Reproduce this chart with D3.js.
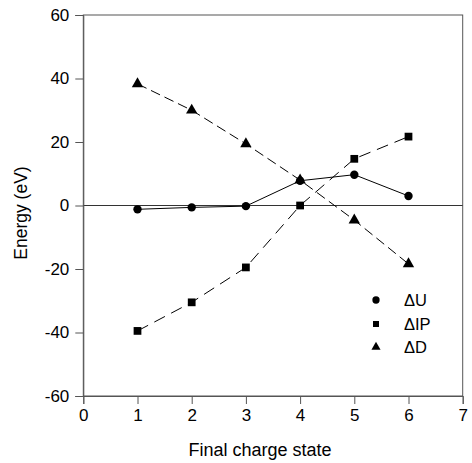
<!DOCTYPE html>
<html>
<head>
<meta charset="utf-8">
<script src="https://cdn.jsdelivr.net/npm/d3@7"></script>
<style>
  body { margin: 0; background: #fff; }
  text { font-family: Arial, "Liberation Sans", sans-serif; fill: #000; }
</style>
</head>
<body>
<script>
// chart data
var charges = [1, 2, 3, 4, 5, 6];
var dU  = [-1.2, -0.6, -0.2, 7.8, 9.7, 3.0];
var dIP = [-39.5, -30.5, -19.5, 0, 14.7, 21.7];
var dD  = [38.3, 30, 19.4, 8, -4.6, -18.4];
var xTicks = [0, 1, 2, 3, 4, 5, 6, 7];
var yTicks = [-60, -40, -20, 0, 20, 40, 60];
var seriesNames = ["\u0394U", "\u0394IP", "\u0394D"];

var W = 472, H = 463;
var margin = {left: 83.3, right: 9.3, top: 15, bottom: 67};
var width = W - margin.left - margin.right,
    height = H - margin.top - margin.bottom;

var svg = d3.select("body").append("svg")
    .attr("width", W).attr("height", H)
    .append("g")
    .attr("transform", "translate(" + margin.left + "," + margin.top + ")");

var x = d3.scaleLinear().domain([0, 7]).range([0, width]);
var y = d3.scaleLinear().domain([-60, 60]).range([height, 0]);

// plain hyphen for negatives, like the original
var fmt = function(d) { return String(d); };

// frame
svg.append("rect")
    .attr("width", width).attr("height", height)
    .attr("fill", "none").attr("stroke", "#555").attr("stroke-width", 1);

// zero line
svg.append("line")
    .attr("x1", 0).attr("x2", width)
    .attr("y1", y(0)).attr("y2", y(0))
    .attr("stroke", "#333").attr("stroke-width", 1);

// axes
var xAxis = svg.append("g")
    .attr("transform", "translate(0," + height + ")")
    .call(d3.axisBottom(x).tickValues(xTicks).tickFormat(fmt).tickSize(8).tickPadding(5));
var yAxis = svg.append("g")
    .call(d3.axisLeft(y).tickValues(yTicks).tickFormat(fmt).tickSize(8).tickPadding(6));

[xAxis, yAxis].forEach(function(a) {
    a.select(".domain").attr("stroke", "#555");
    a.selectAll(".tick line").attr("stroke", "#555");
    a.selectAll(".tick text").style("font-size", "17px").style("font-family", "Arial, 'Liberation Sans', sans-serif");
});

// axis titles
svg.append("text")
    .attr("x", 260 - margin.left).attr("y", 456 - margin.top)
    .attr("text-anchor", "middle")
    .style("font-size", "18px")
    .text("Final charge state");

svg.append("text")
    .attr("transform", "translate(" + (27 - margin.left) + "," + (213 - margin.top) + ") rotate(-90)")
    .attr("text-anchor", "middle")
    .style("font-size", "17.5px")
    .text("Energy (eV)");

// lines
var line = d3.line()
    .x(function(d) { return x(d[0]); })
    .y(function(d) { return y(d[1]); });

function pairs(vals) {
    return charges.map(function(c, i) { return [c, vals[i]]; });
}

svg.append("path").datum(pairs(dU))
    .attr("d", line).attr("fill", "none").attr("stroke", "#000").attr("stroke-width", 1);
svg.append("path").datum(pairs(dIP))
    .attr("d", line).attr("fill", "none").attr("stroke", "#000").attr("stroke-width", 1)
    .attr("stroke-dasharray", "12,7");
svg.append("path").datum(pairs(dD))
    .attr("d", line).attr("fill", "none").attr("stroke", "#000").attr("stroke-width", 1)
    .attr("stroke-dasharray", "10,5");

// markers
var symCircle = d3.symbol().type(d3.symbolCircle).size(55);
var symSquare = d3.symbol().type(d3.symbolSquare).size(60);
var symTri = d3.symbol().type(d3.symbolTriangle).size(56);
var syms = [symCircle, symSquare, symTri];

[dU, dIP, dD].forEach(function(vals, k) {
    svg.selectAll(".m" + k)
        .data(pairs(vals))
        .join("path")
        .attr("class", "m" + k)
        .attr("transform", function(d) { return "translate(" + x(d[0]) + "," + y(d[1]) + ")"; })
        .attr("d", syms[k]())
        .attr("fill", "#000");
});

// legend
var legendY = [300, 324, 347];
var legend = svg.append("g");
seriesNames.forEach(function(name, k) {
    legend.append("path")
        .attr("transform", "translate(" + (376 - margin.left) + "," + (legendY[k] - margin.top) + ")")
        .attr("d", d3.symbol().type([d3.symbolCircle, d3.symbolSquare, d3.symbolTriangle][k]).size(k == 0 ? 42 : 36)())
        .attr("fill", "#000");
    legend.append("text")
        .attr("x", 404 - margin.left).attr("y", legendY[k] - margin.top)
        .attr("dy", "0.36em")
        .style("font-size", "16.5px")
        .text(name);
});
</script>
</body>
</html>
